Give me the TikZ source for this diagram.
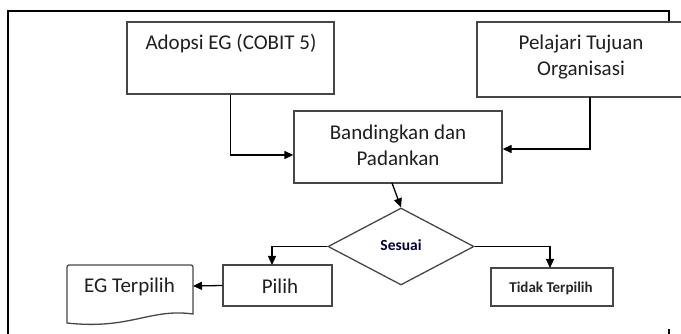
\documentclass[tikz,border=0pt]{standalone}
\usepackage{fontspec}
\setmainfont{Carlito}
\usetikzlibrary{arrows.meta,shapes.geometric,calc}
\begin{document}
\begin{tikzpicture}[x=1pt,y=1pt,
  boxst/.style={draw=black!72,line width=1.3pt,fill=white,inner sep=0pt},
  txt/.style={text=black!88,font=\fontsize{21}{26}\selectfont,align=center,inner sep=0pt},
  small/.style={text=black!85,font=\bfseries\fontsize{15}{18}\selectfont,inner sep=0pt},
  conn/.style={draw=black,line width=1.3pt,-{Triangle[length=9pt,width=8pt]}},
  frame/.style={draw=black,line width=2pt}]
\useasboundingbox (0,0) rectangle (681,-334);
% frame
\draw[frame] (8,-334) -- (8,-11) -- (669,-11) -- (669,-23);
\draw[frame] (669,-329) -- (669,-334);
% boxes
\node[boxst,minimum width=207pt,minimum height=72pt] (adopsi) at (230.5,-58) {};
\node[txt] (adopsiT) at (231,-44) {Adopsi EG (COBIT 5)};
\node[boxst,minimum width=226pt,minimum height=75pt] (pelajari) at (590,-59.5) {};
\node[txt] (pelajariT) at (581,-57.5) {Pelajari Tujuan\\Organisasi};
\node[boxst,minimum width=208pt,minimum height=72pt] (band) at (398,-147) {};
\node[txt] (bandT) at (398,-145.5) {Bandingkan dan\\Padankan};
\node[draw=black!72,line width=1.3pt,diamond,minimum width=146pt,minimum height=77pt,inner sep=0pt] (sesuai) at (401,-246.5) {};
\node[small,text=black!80!blue,font=\bfseries\fontsize{15.5}{18}\selectfont] (sesuaiT) at (401,-245) {Sesuai};
\node[boxst,minimum width=109pt,minimum height=41pt] (pilih) at (277.5,-285.5) {};
\node[txt] (pilihT) at (280,-286) {Pilih};
\node[boxst,minimum width=122pt,minimum height=38pt] (tidak) at (552,-287) {};
\node[small,font=\bfseries\fontsize{15}{17}\selectfont] (tidakT) at (551,-288) {Tidak Terpilih};
% document shape
\draw[draw=black!72,line width=1.3pt,fill=white] (67,-323) -- (67,-267) to[out=90,in=180] (69,-265) -- (191,-265) to[out=0,in=90] (193,-267) -- (193,-314)
  .. controls (150,-308) and (130,-330) .. (67,-323) -- cycle;
\node[txt] (egT) at (129.5,-287) {EG Terpilih};
\coordinate (eg) at (193,-286);
% connectors
\coordinate (a1) at ($(band.west)+(0,-8)$);
\draw[conn] (adopsi.south) |- (a1);
\coordinate (p0) at (590,-97);
\coordinate (p1) at ($(band.east)+(0,-2)$);
\draw[conn] (p0) |- (p1);
\coordinate (b0) at (392,-183);
\draw[conn] (b0) -- (sesuai.north);
\coordinate (l1) at (272,-265);
\draw[conn] (sesuai.west) -| (l1);
\coordinate (r1) at (550,-268);
\draw[conn] (sesuai.east) -| (r1);
\draw[conn] (pilih.west) -- (eg);
\end{tikzpicture}
\end{document}
